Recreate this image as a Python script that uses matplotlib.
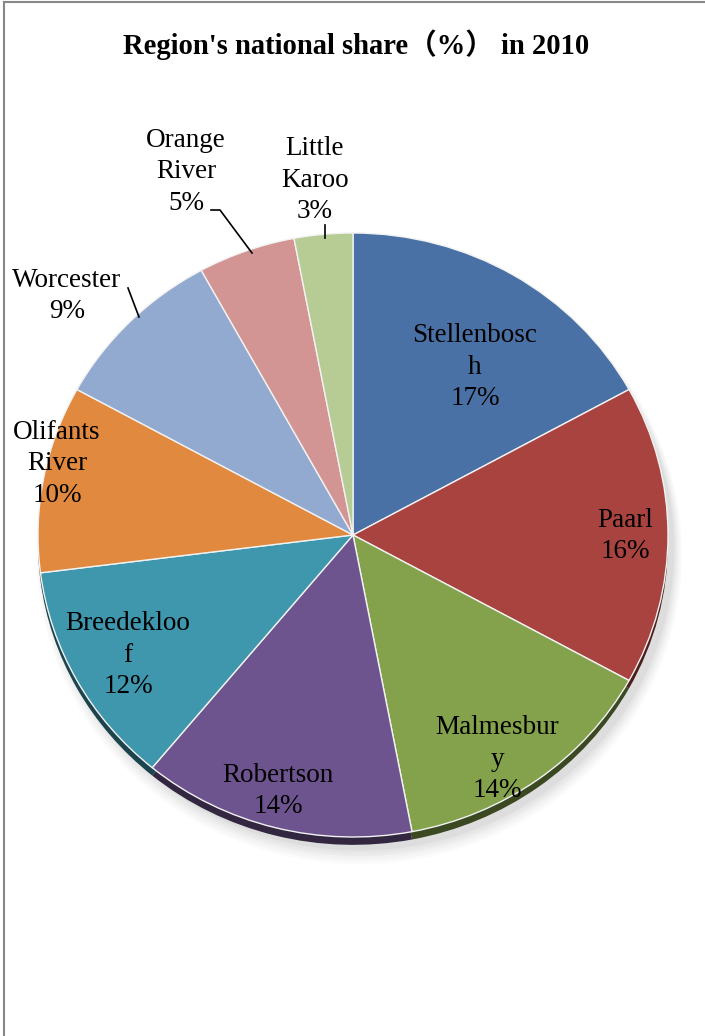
import matplotlib
matplotlib.use("Agg")
import matplotlib.pyplot as plt
import matplotlib.colors as mcolors
from matplotlib.patches import Ellipse
import numpy as np

regions = ["Stellenbosch", "Paarl", "Malmesbury", "Robertson", "Breedekloof",
           "Olifants River", "Worcester", "Orange River", "Little Karoo"]
shares = [17, 16, 14, 14, 12, 10, 9, 5, 3]
label_texts = ["Stellenbosc\nh", "Paarl", "Malmesbur\ny", "Robertson", "Breedekloo\nf",
               "Olifants\nRiver", "Worcester", "Orange\nRiver", "Little\nKaroo"]
title = "Region's national share（%） in 2010"

colors = ["#4A71A5", "#A8433F", "#84A24B", "#6E548F", "#3F97AD",
          "#E0893F", "#93AAD0", "#D29593", "#B7CC95"]

W, H = 705, 1036
CX, CY = 353, 535          # pie centre in pixels (from top)
RX, RY = 315, 302          # pixel radii

fig = plt.figure(figsize=(W / 100, H / 100), dpi=100)
ax = fig.add_axes([0, 0, 1, 1])

serif = ["Liberation Serif", "Noto Sans CJK SC", "DejaVu Serif"]

# soft grey shadow
for i, a in enumerate(np.linspace(0.05, 0.02, 6)):
    ax.add_patch(Ellipse((0.02, -0.045 - 0.004 * i), 2.0 + 0.01 * i, 2.0 + 0.01 * i,
                         facecolor="#606060", alpha=a, edgecolor="none", zorder=0))

# darker "side" of the 3D pie
dark = [tuple(c * 0.45 for c in mcolors.to_rgb(col)) for col in colors]
ax.pie(shares, colors=dark, startangle=90, counterclock=False, radius=1.0,
       center=(0.0, -0.026), wedgeprops=dict(edgecolor="none"), frame=True)

wedges, _ = ax.pie(shares, colors=colors, startangle=90, counterclock=False, radius=1.0,
                   center=(0, 0), wedgeprops=dict(edgecolor="#F2F2F2", linewidth=1.0),
                   frame=True)
ax.set_aspect("auto")
ax.set_xlim(-CX / RX, (W - CX) / RX)
ax.set_ylim((CY - H) / RY, CY / RY)
ax.axis("off")

# label block centres (pixel layout)
label_pos = [(475, 367), (625, 536), (497, 759), (278, 791), (128, 655),
             (57, 464), (67, 296), (186, 172), (315, 180)]

def to_data(px, py):
    return (px - CX) / RX, (CY - py) / RY

for txt, val, (px, py) in zip(label_texts, shares, label_pos):
    x, y = to_data(px, py)
    ax.text(x, y, f"{txt}\n{val}%", ha="center", va="center", fontsize=19.5,
            family=serif, linespacing=1.34, color="black", zorder=5)

# leader lines
leaders = [
    [(211, 210), (220, 210), (252, 253)],
    [(325, 225), (325, 238)],
    [(128, 288), (139, 317)],
]
for pts in leaders:
    xs, ys = zip(*[to_data(px, py) for px, py in pts])
    ax.plot(xs, ys, color="black", lw=1.2, zorder=5)

fig.text(356 / W, 1 - 45 / H, title, ha="center", va="center", fontsize=20.6,
         fontweight="bold", family=serif)

# chart border (top & left visible)
fig.add_artist(plt.Line2D([4 / W, 1], [1 - 2 / H, 1 - 2 / H], color="#888888", lw=1.5))
fig.add_artist(plt.Line2D([4 / W, 4 / W], [0, 1 - 2 / H], color="#888888", lw=1.5))

fig.savefig("out.png", dpi=100)
